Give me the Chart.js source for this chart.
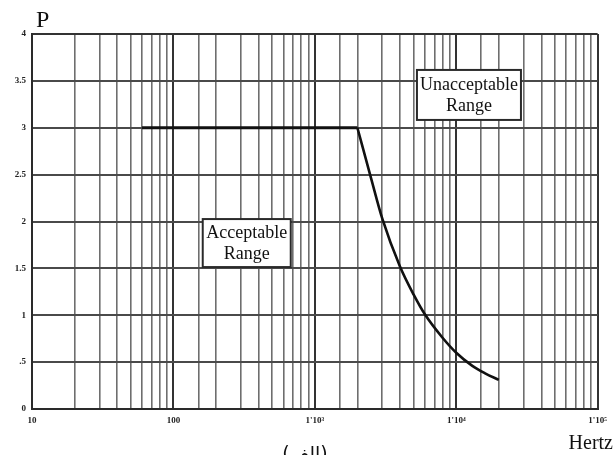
<!DOCTYPE html>
<html lang="en">
<head>
  <meta charset="UTF-8" />
  <title>Acceptable range</title>
  <script src="https://cdn.jsdelivr.net/npm/chart.js"></script>
  <style>
    * { margin: 0; padding: 0; box-sizing: border-box; }
    body { background: white; width: 613px; height: 455px; overflow: hidden; }
    canvas { display: block; }
  </style>
</head>
<body>
  <canvas id="chart" width="613" height="455"></canvas>

  <script>
    // flat part of the limit
    const flatFreq = [60, 2000];
    const flatP = [3, 3];

    // falling part of the limit
    const curveFreq = [2000, 2500, 3000, 4000, 5000, 6000, 8000, 10000, 13000, 16000, 20000];
    const curveP = [3, 2.46, 2.03, 1.52, 1.22, 1.01, 0.76, 0.6, 0.46, 0.38, 0.31];

    // axis ticks
    const xDecades = [10, 100, 1000, 10000, 100000];
    const xTickText = ['10', '100', "1'10\u00B3", "1'10\u2074", "1'10\u2075"];
    const yTickVals = [0, 0.5, 1, 1.5, 2, 2.5, 3, 3.5, 4];
    const yTickText = ['0', '.5', '1', '1.5', '2', '2.5', '3', '3.5', '4'];

    // boxed notes (centre in data units)
    const noteText = [['Acceptable', 'Range'], ['Unacceptable', 'Range']];
    const noteFreq = [330, 12300];
    const noteP = [1.77, 3.35];

    const toPoints = (xs, ys) => xs.map((x, i) => ({ x: x, y: ys[i] }));
    const isDecade = v => xDecades.some(d => Math.abs(v - d) < d * 1e-6);

    const tickFont = { family: 'Liberation Serif', size: 9, weight: 'bold' };

    const notes = {
      id: 'notes',
      afterDraw(chart) {
        const ctx = chart.ctx;
        const xs = chart.scales.x, ys = chart.scales.y;
        ctx.save();

        // boxed labels
        const boxW = [88, 104], boxH = [48, 50];
        ctx.font = '18px "Liberation Serif"';
        ctx.textAlign = 'center';
        ctx.textBaseline = 'middle';
        noteText.forEach((lines, i) => {
          const cx = xs.getPixelForValue(noteFreq[i]);
          const cy = ys.getPixelForValue(noteP[i]);
          ctx.fillStyle = 'white';
          ctx.fillRect(cx - boxW[i] / 2, cy - boxH[i] / 2, boxW[i], boxH[i]);
          ctx.strokeStyle = '#2a2a2a';
          ctx.lineWidth = 2;
          ctx.strokeRect(cx - boxW[i] / 2, cy - boxH[i] / 2, boxW[i], boxH[i]);
          ctx.fillStyle = '#111';
          ctx.fillText(lines[0], cx, cy - 10);
          ctx.fillText(lines[1], cx, cy + 11);
        });

        // axis names
        ctx.fillStyle = '#111';
        ctx.textBaseline = 'alphabetic';
        ctx.textAlign = 'left';
        ctx.font = '24px "Liberation Serif"';
        ctx.fillText('P', 36, 27);
        ctx.textAlign = 'right';
        ctx.font = '20px "Liberation Serif"';
        ctx.fillText('Hertz', 613, 449);

        // caption, cut by the bottom edge
        ctx.direction = 'rtl';
        ctx.textAlign = 'center';
        ctx.font = '19px "DejaVu Sans"';
        ctx.fillText('(\u0627\u0644\u0641)', 305, 460);
        ctx.restore();
      }
    };

    new Chart(document.getElementById('chart'), {
      type: 'scatter',
      data: {
        datasets: [{
          data: toPoints(flatFreq, flatP),
          showLine: true,
          borderColor: '#111',
          borderWidth: 3,
          pointRadius: 0,
          tension: 0
        }, {
          data: toPoints(curveFreq, curveP),
          showLine: true,
          borderColor: '#111',
          borderWidth: 2.6,
          pointRadius: 0,
          cubicInterpolationMode: 'monotone'
        }]
      },
      options: {
        responsive: false,
        animation: false,
        layout: { padding: { top: 34, right: 13, left: 0, bottom: 0 } },
        plugins: {
          legend: { display: false },
          tooltip: { enabled: false }
        },
        scales: {
          x: {
            type: 'logarithmic',
            min: 10,
            max: 100000,
            afterFit: s => { s.height = 46; },
            border: { display: true, color: '#2a2a2a', width: 2 },
            grid: {
              drawTicks: false,
              color: c => isDecade(c.tick.value) ? '#333' : '#6e6e6e',
              lineWidth: c => isDecade(c.tick.value) ? 2 : 1.6
            },
            ticks: {
              autoSkip: false,
              maxRotation: 0,
              padding: 6,
              color: '#222',
              font: tickFont,
              callback: v => {
                const i = xDecades.findIndex(d => Math.abs(v - d) < d * 1e-6);
                return i >= 0 ? xTickText[i] : '';
              }
            }
          },
          y: {
            min: 0,
            max: 4,
            afterFit: s => { s.width = 32; },
            border: { display: true, color: '#2a2a2a', width: 2 },
            grid: {
              drawTicks: false,
              color: c => c.tick.value === 4 ? '#333' : '#4a4a4a',
              lineWidth: 2
            },
            ticks: {
              stepSize: 0.5,
              padding: 6,
              color: '#222',
              font: tickFont,
              callback: v => {
                const i = yTickVals.indexOf(v);
                return i >= 0 ? yTickText[i] : '';
              }
            }
          }
        }
      },
      plugins: [notes]
    });
  </script>
</body>
</html>
